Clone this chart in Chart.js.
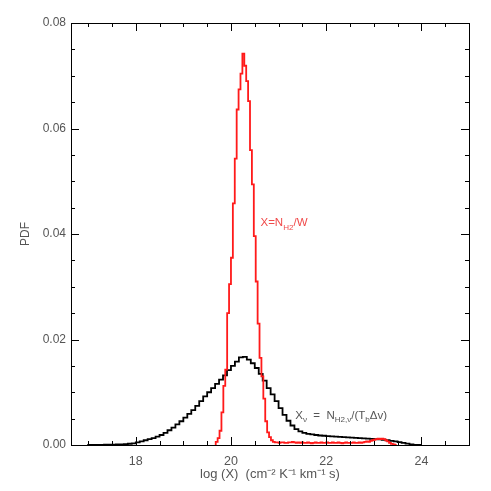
<!DOCTYPE html>
<html><head><meta charset="utf-8">
<script src="https://cdn.jsdelivr.net/npm/chart.js@4.4.0/dist/chart.umd.min.js"></script>
<style>html,body{margin:0;padding:0;background:#fff}#c{display:block}</style>
</head><body>
<canvas id="c" width="491" height="491"></canvas>
<script>
// ---- data ----
const xTickValues = [18, 20, 22, 24];
const yTickValues = [0, 0.02, 0.04, 0.06, 0.08];
const xRange = [16.64, 25.0];
const yRange = [0, 0.08];

// black histogram: X_nu, bins of 1/12 dex starting at 17.0
const blackStart = 17.0;
const blackWidth = 1 / 12;
const blackValues = [
  0.00001, 0.00002, 0.00002, 0.00003, 0.00004, 0.00005, 0.00006, 0.00008, 0.0001, 0.00013, 0.00017, 0.00024,
  0.0003, 0.0005, 0.0007, 0.0009, 0.0011, 0.0013, 0.0016, 0.0019, 0.0023, 0.0028, 0.0033, 0.0039,
  0.0045, 0.0052, 0.0059, 0.0066, 0.0074, 0.0083, 0.0092, 0.0100, 0.0108, 0.0116, 0.0124, 0.0132,
  0.0142, 0.0150, 0.0158, 0.0166, 0.0167, 0.0162, 0.0155, 0.0146, 0.0135, 0.0122, 0.0108, 0.0096,
  0.0083, 0.0070, 0.0057, 0.0046, 0.0037, 0.0030, 0.0026, 0.0023, 0.0021, 0.0020, 0.0019, 0.0018,
  0.00175, 0.0017, 0.00165, 0.0016, 0.00155, 0.0015, 0.00145, 0.0014, 0.00135, 0.0013, 0.00125, 0.0012,
  0.00115, 0.0011, 0.00105, 0.0010, 0.0009, 0.0008, 0.0007, 0.00055, 0.0004, 0.00025, 0.00012, 0.00004
];

// red histogram: X = N_H2/W, bins of 0.04 dex starting at 19.68
const redStart = 19.68;
const redWidth = 0.04;
const redValues = [
  0.0002, 0.0006, 0.0013, 0.0027, 0.0062, 0.0112, 0.0143, 0.0250,
  0.0305, 0.0355, 0.0458, 0.0543, 0.0636, 0.0674, 0.0704, 0.0742,
  0.0719, 0.0690, 0.0652, 0.0559, 0.0494, 0.0396, 0.0310, 0.0230,
  0.0165, 0.0130, 0.0088, 0.0045, 0.0024, 0.0015, 0.0009, 0.0006,
  0.0005, 0.0005, 0.0004, 0.0005, 0.0005, 0.0004, 0.0004, 0.0005, 0.0005, 0.0006, 0.0005, 0.0004, 0.0005,
  0.0004, 0.0005, 0.0004, 0.0004, 0.0005, 0.0004, 0.0003, 0.0004, 0.0005, 0.0004, 0.0004, 0.0005, 0.0004,
  0.0004, 0.0005, 0.0004, 0.0004, 0.0005, 0.0004, 0.0004, 0.0005, 0.0004, 0.0003, 0.0004, 0.0005, 0.0004,
  0.0004, 0.0004, 0.0005, 0.0004, 0.0004, 0.0005, 0.0004, 0.0005, 0.0006, 0.0007, 0.0006, 0.0008, 0.0009,
  0.0010, 0.0011, 0.0012, 0.0011, 0.0012, 0.0011, 0.0009, 0.0007, 0.0004, 0.0002, 0.0001
];

const xTitle = 'log (X)  (cm\u207B\u00B2 K\u207B\u00B9 km\u207B\u00B9 s)';
const yTitle = 'PDF';

// ---- build step outlines ----
function toSteps(start, width, values) {
  const pts = [{ x: start, y: 0 }];
  values.forEach((v, i) => pts.push({ x: start + i * width, y: v }));
  pts.push({ x: start + values.length * width, y: 0 });
  return pts;
}

const FONT = 'Liberation Sans, Arial, Helvetica, sans-serif';
const TXT = '#555555';

function drawRich(ctx, x, y, parts, size, color) {
  ctx.fillStyle = color;
  ctx.textBaseline = 'alphabetic';
  ctx.textAlign = 'left';
  let cx = x;
  parts.forEach(p => {
    const s = p.sub ? size * 0.7 : size;
    ctx.font = s + 'px ' + FONT;
    ctx.fillText(p.t, cx, y + (p.sub ? size * 0.3 : 0));
    cx += ctx.measureText(p.t).width;
  });
}

const framePlugin = {
  id: 'frame',
  afterDatasetsDraw(chart) {
    const { ctx, chartArea: a, scales: { x, y } } = chart;
    ctx.save();
    ctx.strokeStyle = '#000';
    ctx.lineWidth = 1;
    ctx.strokeRect(Math.round(a.left) + 0.5, Math.round(a.top) + 0.5,
      Math.round(a.right - a.left), Math.round(a.bottom - a.top));
    ctx.beginPath();
    for (let v = 17; v <= 25.001; v += 0.5) {
      const px = Math.round(x.getPixelForValue(v)) + 0.5;
      const len = Math.abs(v % 2) < 1e-6 ? 8 : 4;
      ctx.moveTo(px, a.bottom); ctx.lineTo(px, a.bottom - len);
      ctx.moveTo(px, a.top); ctx.lineTo(px, a.top + len);
    }
    for (let k = 0; k <= 16; k++) {
      const v = k * 0.005;
      const py = Math.round(y.getPixelForValue(v)) + 0.5;
      const len = k % 4 === 0 ? 8 : 4;
      ctx.moveTo(a.left, py); ctx.lineTo(a.left + len, py);
      ctx.moveTo(a.right, py); ctx.lineTo(a.right - len, py);
    }
    ctx.stroke();
    // annotations placed in data coordinates
    drawRich(ctx, x.getPixelForValue(20.62), y.getPixelForValue(0.0415),
      [{ t: 'X=N' }, { t: 'H2', sub: true }, { t: '/W' }], 11.5, '#f04a4a');
    drawRich(ctx, x.getPixelForValue(21.35), y.getPixelForValue(0.0050),
      [{ t: 'X' }, { t: '\u03BD', sub: true }, { t: '  =  N' }, { t: 'H2,\u03BD', sub: true },
       { t: '/(T' }, { t: 'b', sub: true }, { t: '\u0394v)' }], 11.5, TXT);
    ctx.restore();
  }
};

new Chart(document.getElementById('c'), {
  type: 'line',
  data: {
    datasets: [
      { data: toSteps(redStart, redWidth, redValues), borderColor: '#ff1a1a', borderWidth: 1.8,
        stepped: 'after', pointRadius: 0, fill: false },
      { data: toSteps(blackStart, blackWidth, blackValues), borderColor: '#000000', borderWidth: 1.8,
        stepped: 'after', pointRadius: 0, fill: false }
    ]
  },
  options: {
    responsive: false,
    animation: false,
    devicePixelRatio: 1,
    layout: { padding: { left: 0, top: 23, right: 22, bottom: 0 } },
    plugins: { legend: { display: false }, tooltip: { enabled: false } },
    scales: {
      x: {
        type: 'linear', min: xRange[0], max: xRange[1],
        grid: { display: false, drawTicks: false }, border: { display: false },
        afterBuildTicks: s => { s.ticks = xTickValues.map(v => ({ value: v })); },
        afterFit: s => { s.height = 46; },
        ticks: { font: { family: FONT, size: 12.5 }, color: TXT, padding: 9, maxRotation: 0,
          callback: v => String(v) },
        title: { display: true, text: xTitle, font: { family: FONT, size: 13 }, color: TXT,
          padding: { top: 0, bottom: 9 } }
      },
      y: {
        type: 'linear', min: yRange[0], max: yRange[1],
        grid: { display: false, drawTicks: false }, border: { display: false },
        afterBuildTicks: s => { s.ticks = yTickValues.map(v => ({ value: v })); },
        afterFit: s => { s.width = 71; },
        ticks: { font: { family: FONT, size: 12 }, color: TXT, padding: 5,
          callback: v => Number(v).toFixed(2) },
        title: { display: true, text: yTitle, font: { family: FONT, size: 12 }, color: TXT,
          padding: { top: 18, bottom: 0 } }
      }
    }
  },
  plugins: [framePlugin]
});
</script>
</body></html>
